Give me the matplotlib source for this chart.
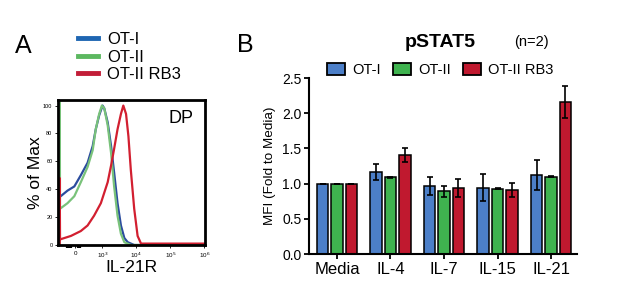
import numpy as np
import matplotlib
matplotlib.use("Agg")
import matplotlib.pyplot as plt
from matplotlib.lines import Line2D
from matplotlib.patches import Patch

plt.rcParams['font.family'] = ['Liberation Sans', 'DejaVu Sans']

# ---- Panel A: IL-21R histograms (x in display decades, y in % of max) ----
hist_labels = ["OT-I", "OT-II", "OT-II RB3"]
blue_x = [1.75, 1.75, 1.78, 1.98, 2.18, 2.37, 2.57, 2.72, 2.81, 2.91, 3.01, 3.06, 3.16,
          3.26, 3.35, 3.45, 3.55, 3.65, 3.75, 3.94, 6.02]
blue_y = [0, 35, 35, 39, 42, 50, 59, 71, 83, 93, 100, 98, 88, 71, 52, 30, 14, 5, 2, 0, 0]
green_x = [1.75, 1.75, 1.76, 1.98, 2.18, 2.37, 2.57, 2.72, 2.81, 2.91, 2.99, 3.06, 3.16,
           3.26, 3.35, 3.45, 3.55, 3.65, 3.84, 6.02]
green_y = [0, 105, 26, 30, 35, 45, 56, 68, 83, 94, 100, 98, 86, 66, 42, 21, 8, 2, 0, 0]
red_x = [1.75, 1.75, 1.76, 2.08, 2.37, 2.57, 2.76, 2.96, 3.16, 3.26, 3.35, 3.45, 3.55,
         3.62, 3.70, 3.77, 3.84, 3.94, 4.04, 4.14, 6.02]
red_y = [0, 48, 4, 6.5, 10, 14, 21, 30, 45, 57, 69, 83, 94, 100, 94, 78, 54, 26, 6.5, 1, 1]
hist_xticklabels = ["0", "10$^3$", "10$^4$", "10$^5$", "10$^6$"]
hist_yticklabels = ["0", "20", "40", "60", "80", "100"]

# ---- Panel B: pSTAT5 MFI, fold to media ----
cytokines = ["Media", "IL-4", "IL-7", "IL-15", "IL-21"]
ot1_mean = [1.0, 1.17, 0.97, 0.94, 1.12]
ot1_err = [0.0, 0.115, 0.13, 0.19, 0.21]
ot2_mean = [1.0, 1.09, 0.89, 0.93, 1.10]
ot2_err = [0.0, 0.01, 0.08, 0.01, 0.01]
rb3_mean = [1.0, 1.40, 0.94, 0.91, 2.16]
rb3_err = [0.0, 0.10, 0.13, 0.10, 0.23]

hist_colors = ["#2b4c9e", "#79c27a", "#d21f30"]
leg_colors = ["#1e66b2", "#5cb860", "#c21d38"]
bar_colors = ["#4c7fc8", "#3fb34f", "#c0192f"]

fig = plt.figure(figsize=(6.17, 2.90), dpi=100)

# ---------------- Panel A ----------------
ax1 = fig.add_axes([0.0940, 0.1552, 0.2382, 0.5])
for xs, ys, c in zip([blue_x, green_x, red_x], [blue_y, green_y, red_y], hist_colors):
    ax1.plot(xs, ys, color=c, lw=1.6, solid_joinstyle="round")
ax1.set_xlim(1.70, 6.02)
ax1.set_ylim(0, 104)
for s in ax1.spines.values():
    s.set_linewidth(2.0)
ax1.set_xticks([2.21, 3, 4, 5, 6])
ax1.set_xticklabels(hist_xticklabels, fontsize=4.5)
ax1.set_yticks([0, 20, 40, 60, 80, 100])
ax1.set_yticklabels(hist_yticklabels, fontsize=4)
ax1.set_xticks([1.96, 1.99, 2.02, 2.08, 2.30, 2.34], minor=True)
ax1.tick_params(axis="both", which="major", length=2, width=0.6, pad=2)
ax1.tick_params(axis="x", which="minor", length=2.5, width=1.6)
ax1.set_xlabel("IL-21R", fontsize=12.5, labelpad=0)
ax1.set_ylabel("% of Max", fontsize=12.5, labelpad=0)
ax1.text(0.84, 0.87, "DP", transform=ax1.transAxes, fontsize=13, ha="center", va="center")

handles_a = [Line2D([], [], color=c, lw=3.5) for c in leg_colors]
ax1.legend(handles_a, hist_labels, loc="upper left", bbox_to_anchor=(78 / 617, 1 - 32 / 290),
           bbox_transform=fig.transFigure, frameon=False, fontsize=12,
           handlelength=1.2, handletextpad=0.55, labelspacing=0.15, borderpad=0,
           borderaxespad=0)

fig.text(0.037, 0.840, "A", fontsize=18, ha="center", va="center")

# ---------------- Panel B ----------------
ax2 = fig.add_axes([0.5008, 0.1241, 0.4344, 0.6069])
x = np.arange(len(cytokines))
w = 0.21
off = 0.27
series = [(ot1_mean, ot1_err), (ot2_mean, ot2_err), (rb3_mean, rb3_err)]
for i, ((m, e), c) in enumerate(zip(series, bar_colors)):
    ax2.bar(x + (i - 1) * off, m, width=w, color=c, edgecolor="black", linewidth=1.1,
            label=hist_labels[i], zorder=2)
    ax2.errorbar(x + (i - 1) * off, m, yerr=e, fmt="none", ecolor="black",
                 elinewidth=1.2, capsize=2.2, capthick=1.2, zorder=3)
ax2.set_xlim(-0.523, 4.486)
ax2.set_ylim(0, 2.5)
ax2.spines["top"].set_visible(False)
ax2.spines["right"].set_visible(False)
ax2.spines["left"].set_linewidth(1.5)
ax2.spines["bottom"].set_linewidth(1.5)
ax2.set_xticks(x)
ax2.set_xticklabels(cytokines, fontsize=12)
ax2.set_yticks([0, 0.5, 1.0, 1.5, 2.0, 2.5])
ax2.set_yticklabels(["0.0", "0.5", "1.0", "1.5", "2.0", "2.5"], fontsize=10)
ax2.tick_params(axis="both", length=3.5, width=1.3, pad=2)
ax2.set_ylabel("MFI (Fold to Media)", fontsize=9.7, labelpad=4)

handles_b = [Patch(facecolor=c, edgecolor="black", linewidth=1.3) for c in bar_colors]
ax2.legend(handles_b, hist_labels, loc="center left", bbox_to_anchor=(327 / 617, 1 - 70 / 290),
           bbox_transform=fig.transFigure, frameon=False, fontsize=10.5, ncol=3,
           handlelength=1.25, handleheight=0.95, handletextpad=0.5, columnspacing=0.8,
           borderpad=0, borderaxespad=0)

fig.text(0.397, 0.845, "B", fontsize=18, ha="center", va="center")
fig.text(0.713, 0.855, "pSTAT5", fontsize=14, fontweight="bold", ha="center", va="center")
fig.text(0.861, 0.855, "(n=2)", fontsize=10.5, ha="center", va="center")

fig.savefig("out.png", dpi=100)
